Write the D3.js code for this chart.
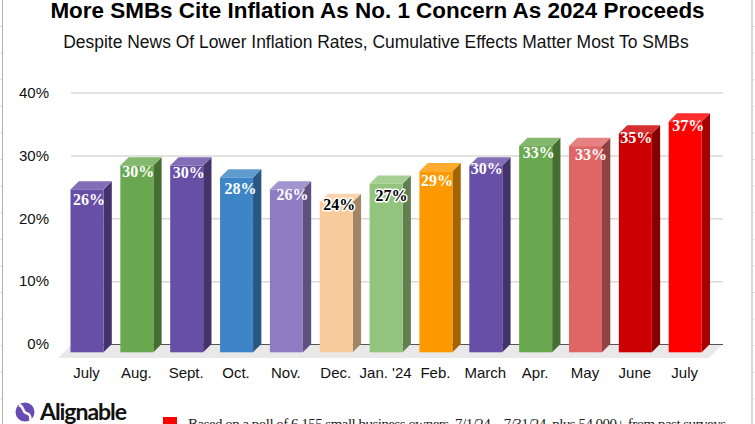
<!DOCTYPE html>
<html>
<head>
	<title>SMB inflation concern</title>
	<meta charset="utf-8">
	<script src="https://d3js.org/d3.v7.min.js"></script>
	<style>
		html, body { margin: 0; padding: 0; background: #fff; overflow: hidden; }
		svg { display: block; }
	</style>
</head>
<body>
	<script type="text/javascript">
		var months = ['July', 'Aug.', 'Sept.', 'Oct.', 'Nov.', 'Dec.', "Jan. '24", 'Feb.', 'March', 'Apr.', 'May', 'June', 'July'];
		var values = [25.9, 29.7, 29.7, 27.8, 25.9, 23.9, 26.8, 28.8, 29.7, 32.8, 32.8, 34.8, 36.7];
		var yTicks = [0, 10, 20, 30, 40];
		var barColors = ['#674ea7', '#6aa84f', '#674ea7', '#3d85c6', '#8e7cc3', '#f9cb9c', '#93c47d', '#ff9900', '#674ea7', '#6aa84f', '#e06666', '#cc0000', '#ff0000'];
		// labels sit a bit unevenly on the bars in the original
		var labelDx = [2, 1.5, 2, 4, 6, 3, 5.5, 1, 1, 3, 5.5, 1, 3];
		var labelDy = [16, 11, 12, 16, 11, 8, 17, 15, 8, 12, 14, 10, 9];
		var darkLabels = [5, 6];

		var width = 755, height = 424;
		var depth = 8.3;
		var sans = '"Liberation Sans", Arial, sans-serif';
		var serif = '"Liberation Serif", Georgia, serif';

		var svg = d3.select('body')
			.append('svg')
			.attr('width', width)
			.attr('height', height);

		var x = d3.scaleBand()
			.domain(d3.range(months.length))
			.range([70.5, 701.7])
			.paddingInner(0.338);

		// back wall of the 3d plot, bars stand in front of it
		var y = d3.scaleLinear().domain([0, 40]).range([344, 92.5]);
		var yFront = d3.scaleLinear().domain([0, 40]).range([352.3, 100.8]);

		// page edges with the faint sheet ticks
		[2.5, 752].forEach(function(ex) {
			svg.append('line')
				.attr('x1', ex).attr('x2', ex)
				.attr('y1', 0).attr('y2', height)
				.attr('stroke', '#b0b0b0')
				.attr('stroke-width', 1);
		});
		d3.range(26.5, height, 26.6).forEach(function(ty) {
			svg.append('line').attr('x1', 0).attr('x2', 2).attr('y1', ty).attr('y2', ty).attr('stroke', '#dcdcdc');
			svg.append('line').attr('x1', 752).attr('x2', 755).attr('y1', ty).attr('y2', ty).attr('stroke', '#dcdcdc');
		});

		svg.append('text')
			.attr('x', 377.5).attr('y', 18)
			.attr('text-anchor', 'middle')
			.attr('font-family', sans)
			.attr('font-weight', 'bold')
			.attr('font-size', 22.45)
			.attr('fill', '#000')
			.text('More SMBs Cite Inflation As No. 1 Concern As 2024 Proceeds');

		svg.append('text')
			.attr('x', 376).attr('y', 48)
			.attr('text-anchor', 'middle')
			.attr('font-family', sans)
			.attr('font-size', 17.45)
			.attr('fill', '#111')
			.text('Despite News Of Lower Inflation Rates, Cumulative Effects Matter Most To SMBs');

		// floor
		svg.append('path')
			.attr('d', 'M58,358L72,344L723,344L709,358Z')
			.attr('fill', '#e9e9e9');

		// grid and y axis
		var yAxis = svg.append('g')
			.attr('transform', 'translate(71,0)')
			.call(d3.axisLeft(y)
				.tickValues(yTicks)
				.tickSize(-652)
				.tickPadding(22)
				.tickFormat(function(d) { return d + '%'; }));
		yAxis.select('.domain').remove();
		yAxis.selectAll('line')
			.attr('stroke', function(d) { return d === 0 ? '#555' : '#d9d9d9'; })
			.attr('stroke-width', function(d) { return d === 0 ? 1 : 1.5; });
		yAxis.selectAll('text')
			.attr('font-family', sans)
			.attr('font-size', 15)
			.attr('fill', '#111');

		function shade(c, k) {
			return d3.rgb(c).darker(k).formatHex();
		}

		var bars = svg.selectAll('.bar')
			.data(values)
			.enter()
			.append('g')
			.attr('class', 'bar');

		// right side
		bars.append('path')
			.attr('d', function(d, i) {
				var r = x(i) + x.bandwidth();
				return 'M' + r + ',' + yFront(d) + 'l' + depth + ',' + (-depth) + 'V' + y(0) + 'L' + r + ',' + yFront(0) + 'Z';
			})
			.attr('fill', function(d, i) { return shade(barColors[i], 1.2); });

		// top
		bars.append('path')
			.attr('d', function(d, i) {
				return 'M' + x(i) + ',' + yFront(d) + 'l' + depth + ',' + (-depth) + 'h' + x.bandwidth() + 'l' + (-depth) + ',' + depth + 'Z';
			})
			.attr('fill', function(d, i) { return d3.interpolateRgb(barColors[i], '#fff')(0.18); });

		// front
		bars.append('rect')
			.attr('x', function(d, i) { return x(i); })
			.attr('y', function(d) { return yFront(d); })
			.attr('width', x.bandwidth())
			.attr('height', function(d) { return yFront(0) - yFront(d); })
			.attr('fill', function(d, i) { return barColors[i]; });

		bars.append('text')
			.attr('x', function(d, i) { return x(i) + x.bandwidth() / 2 + labelDx[i]; })
			.attr('y', function(d, i) { return yFront(d) + labelDy[i]; })
			.attr('text-anchor', 'middle')
			.attr('font-family', serif)
			.attr('font-weight', 'bold')
			.attr('font-size', 16)
			.attr('paint-order', 'stroke')
			.attr('stroke', function(d, i) { return darkLabels.indexOf(i) >= 0 ? '#fff' : 'none'; })
			.attr('stroke-width', 3)
			.attr('stroke-linejoin', 'round')
			.attr('fill', function(d, i) { return darkLabels.indexOf(i) >= 0 ? '#000' : '#fff'; })
			.text(function(d) { return Math.round(d) + '%'; });

		// month labels
		svg.selectAll('.month')
			.data(months)
			.enter()
			.append('text')
			.attr('class', 'month')
			.attr('x', function(d, i) { return x(i) + x.bandwidth() / 2 - 0.5; })
			.attr('y', 378)
			.attr('text-anchor', 'middle')
			.attr('font-family', sans)
			.attr('font-size', 15)
			.attr('fill', '#111')
			.text(function(d) { return d; });

		// logo
		svg.append('circle')
			.attr('cx', 25).attr('cy', 412).attr('r', 9.5)
			.attr('fill', '#674ab3');
		svg.append('path')
			.attr('d', 'M19,405C25,407 22,412 26,413C30,414 31,417 30,420')
			.attr('fill', 'none')
			.attr('stroke', '#fff')
			.attr('stroke-width', 2.5);
		svg.append('text')
			.attr('x', 40).attr('y', 419.5)
			.attr('font-family', 'Lato, sans-serif')
			.attr('font-weight', 'bold')
			.attr('font-size', 23)
			.attr('textLength', 87)
			.attr('fill', '#111')
			.text('Alignable');

		// note, cut off by the bottom of the picture
		svg.append('rect')
			.attr('x', 163).attr('y', 417)
			.attr('width', 14).attr('height', 10)
			.attr('fill', '#ff0000');
		svg.append('text')
			.attr('x', 188).attr('y', 429)
			.attr('font-family', serif)
			.attr('font-size', 15)
			.attr('textLength', 538)
			.attr('fill', '#222')
			.text('Based on a poll of 6,155 small business owners, 7/1/24 – 7/31/24, plus 54,000+ from past surveys');
	</script>
</body>
</html>
